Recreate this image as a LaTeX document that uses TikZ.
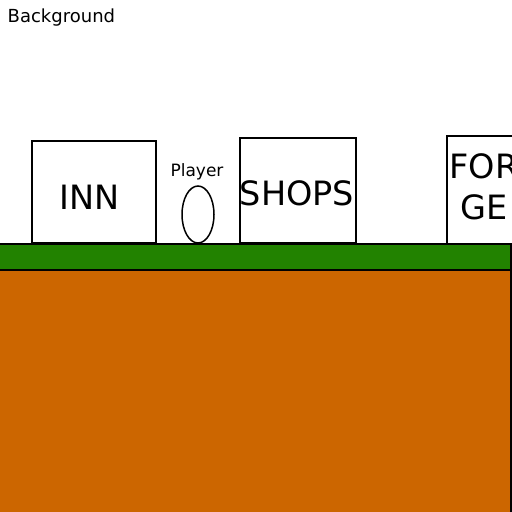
\documentclass[tikz,border=0pt]{standalone}
\usepackage{fontspec}
\setmainfont{DejaVu Sans}
\usetikzlibrary{shapes.geometric}
\definecolor{grass}{RGB}{34,130,0}
\definecolor{soil}{RGB}{204,102,0}
\tikzset{
	house/.style={draw,fill=white,line width=2pt,inner sep=0pt},
	bigtext/.style={font=\fontsize{33.5}{41}\selectfont,inner sep=0pt},
	smalltext/.style={font=\fontsize{17}{20}\selectfont,inner sep=0pt}
}
\begin{document}
\begin{tikzpicture}[x=1pt,y=-1pt]
		\useasboundingbox (0,0) rectangle (512,512);
		\begin{scope}
		\clip (0,0) rectangle (512,512);
		% ground
		\draw[fill=soil,line width=2pt] (-3,270) rectangle (511,514);
		\draw[fill=grass,line width=2pt] (-3,244) rectangle (511,270);
		
		% buildings
		\node[house,minimum width=124pt,minimum height=102pt] (inn) at (94,192) {};
		\node[bigtext] (innlabel) at (89.5,197) {INN};
		\node[house,minimum width=116pt,minimum height=105pt] (shops) at (298,190.5) {};
		\node[bigtext] (shopslabel) at (297,193) {SHOPS};
		\node[house,minimum width=74pt,minimum height=108pt] (forge) at (484,189.5) {};
		\node[bigtext,align=center] (forgelabel) at (484,187) {FOR\\GE};
		
		% player
		\node[draw,ellipse,line width=1.5pt,minimum width=32pt,minimum height=57pt,inner sep=0pt] (player) at (198,214.5) {};
		\node[smalltext] (playerlabel) at (197,172) {Player};
		\end{scope}
		
		\node[smalltext,anchor=west,font=\fontsize{18}{21}\selectfont] (title) at (7.5,17.5) {Background};
	\end{tikzpicture}
\end{document}
